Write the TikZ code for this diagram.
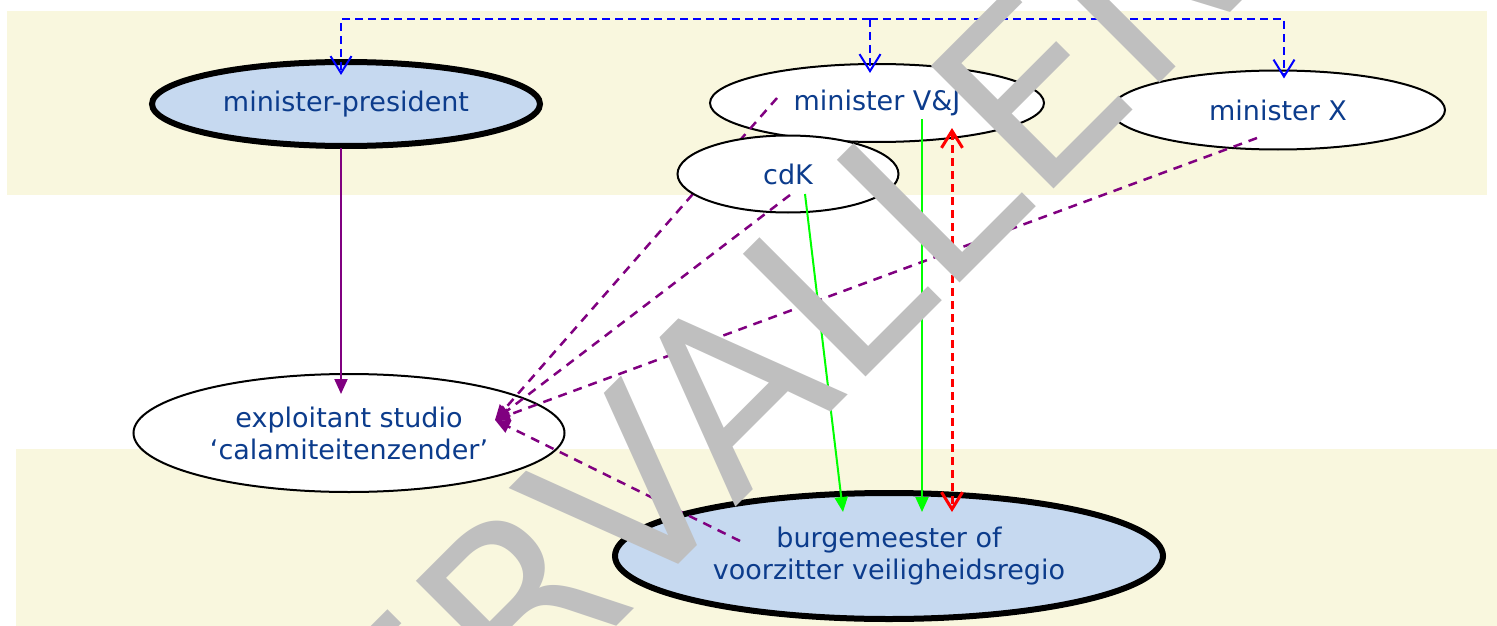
\documentclass[tikz,border=0pt]{standalone}
\usepackage{fontspec}
\setmainfont{DejaVu Sans}
\usetikzlibrary{arrows.meta, calc, shapes.geometric}
\definecolor{bandyellow}{RGB}{249,247,222}
\definecolor{roleblue}{RGB}{198,217,240}
\definecolor{textblue}{RGB}{12,60,140}
\definecolor{linkpurple}{RGB}{128,0,128}
\definecolor{stampgrey}{RGB}{191,191,191}

\begin{document}
\begin{tikzpicture}[x=1pt, y=-1pt,
    role/.style={ellipse, draw, line width=2pt, fill=white, inner sep=0pt, text=textblue, align=center, font=\fontsize{27}{32}\selectfont},
    keyrole/.style={role, line width=6pt, fill=roleblue},
    bluelink/.style={blue, line width=2pt, dash pattern=on 8pt off 5pt, -{Straight Barb[length=17pt, width=21pt]}},
    purplelink/.style={linkpurple, line width=2pt, -{Triangle[length=15pt, width=13pt]}},
    purpledash/.style={purplelink, line width=2.5pt, dash pattern=on 9pt off 7pt},
    greenlink/.style={green, line width=2pt, -{Triangle[length=15pt, width=13pt]}},
    redlink/.style={red, line width=3pt, dash pattern=on 8pt off 5pt, {Straight Barb[length=17pt, width=21pt]}-{Straight Barb[length=17pt, width=21pt]}},
    stamp/.style={text=stampgrey, rotate=45, anchor=base west, inner sep=0pt, font=\fontsize{238}{238}\selectfont}]
    \useasboundingbox (0,0) rectangle (1497,626);
    % bands
    \fill[bandyellow] (7,11) rectangle (1487,195);
    \fill[bandyellow] (16,449) rectangle (1497,626);
    % roles
    \node[keyrole, minimum width=388, minimum height=84] (mp) at (346,104) {minister-president};
    \node[role, minimum width=334, minimum height=78] (vj) at (877,103) {minister V\&J};
    \node[role, minimum width=334, minimum height=79] (mx) at (1278,110) {minister X};
    \node[role, minimum width=431, minimum height=118] (exp) at (349,433) {exploitant studio\\‘calamiteitenzender’};
    \node[keyrole, minimum width=548, minimum height=126] (bgm) at (889,556) {burgemeester of\\voorzitter veiligheidsregio};
    \coordinate (bus) at (870,19);
    \coordinate (expin) at ($(exp)+(146,-13)$);
    \draw[purpledash] ($(vj)+(-100,-5)$) -- (expin);
    \node[role, minimum width=221, minimum height=77] (cdk) at (788,174) {cdK};
    % links
    \draw[bluelink] (bus) -| ($(mp.north)+(-5,16)$);
    \draw[bluelink] (bus) -- ($(vj.north)+(-7,10)$);
    \draw[bluelink] (bus) -| ($(mx.north)+(6,9)$);
    \draw[purplelink] ($(mp)+(-5,44)$) -- ($(exp)+(-8,-39)$);
    \draw[purpledash] ($(cdk)+(2,21)$) -- (expin);
    \draw[purpledash] ($(mx)+(-21,28)$) -- (expin);
    \draw[purpledash] ($(bgm)+(-149,-15)$) -- (expin);
    \draw[greenlink] ($(cdk)+(17,20)$) -- ($(bgm)+(-46,-44)$);
    \draw[greenlink] ($(vj)+(45,16)$) -- ($(bgm)+(33,-44)$);
    \draw[redlink] ($(vj)+(75,25)$) -- ($(bgm)+(63,-44)$);
    % watermark
    \node[stamp] (stamp) at (301,942) {VERVALLEN};
\end{tikzpicture}
\end{document}
